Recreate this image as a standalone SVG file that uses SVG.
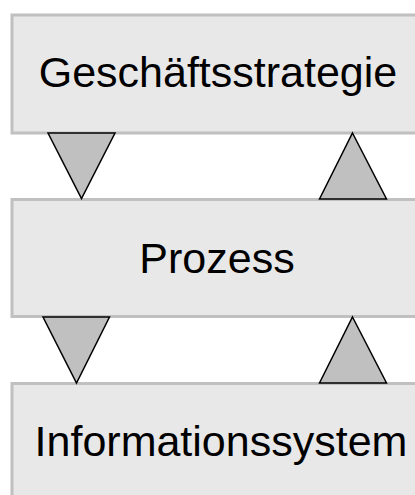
<svg xmlns="http://www.w3.org/2000/svg" width="415" height="495" viewBox="0 0 415 495">
  <style>
    .box { fill: #e8e8e8; stroke: #c0c0c0; stroke-width: 3; }
    .label { font-family: "Liberation Sans", Arial, sans-serif; font-size: 43px; fill: #000; text-anchor: middle; }
    .tri { fill: #c0c0c0; stroke: #000; stroke-width: 1.5; stroke-linejoin: miter; }
  </style>
  <rect width="415" height="495" fill="#fff"/>
  <g id="strategie">
    <rect class="box" x="12" y="15" width="420" height="118"/>
    <text class="label" x="218" y="87">Geschäftsstrategie</text>
  </g>
  <g id="prozess">
    <rect class="box" x="12" y="199.5" width="420" height="117"/>
    <text class="label" x="217" y="273">Prozess</text>
  </g>
  <g id="informationssystem">
    <rect class="box" x="12" y="383.5" width="420" height="130"/>
    <text class="label" x="221" y="456">Informationssystem</text>
  </g>
  <g id="connectors">
    <polygon class="tri" points="48,133 115,133 81.5,198.5"/>
    <polygon class="tri" points="352.5,133 386.5,199 319.5,199"/>
    <polygon class="tri" points="43,317 109.5,317 76.5,383"/>
    <polygon class="tri" points="352.5,317 386.5,383 319.5,383"/>
  </g>
</svg>
